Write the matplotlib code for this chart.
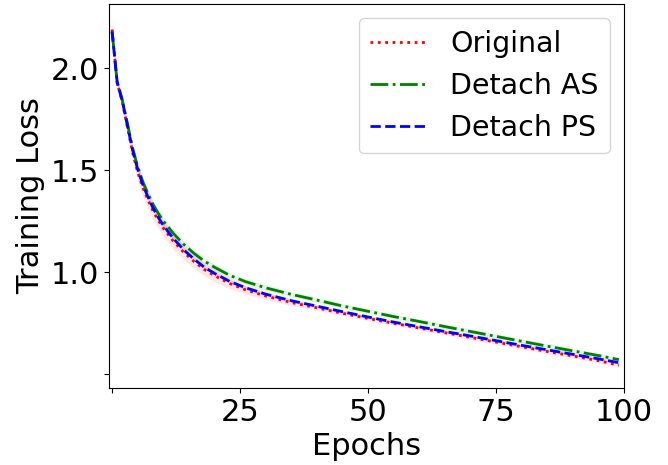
import matplotlib
matplotlib.use("Agg")
import matplotlib.pyplot as plt
import numpy as np

# values (epoch -> mean training loss)
epochs = [0, 1, 2, 3, 4, 5, 6, 7, 8, 9, 10, 12, 14, 16, 18, 20, 23, 26, 30,
          35, 40, 45, 50, 55, 60, 65, 70, 75, 80, 85, 90, 95, 99]

loss_ps = [2.18, 1.93, 1.84, 1.72, 1.60, 1.505, 1.43, 1.37, 1.315, 1.27, 1.23,
           1.165, 1.11, 1.065, 1.025, 0.995, 0.955, 0.925, 0.893, 0.861, 0.834,
           0.807, 0.781, 0.756, 0.733, 0.71, 0.688, 0.665, 0.642, 0.62,
           0.598, 0.576, 0.557]
loss_as = [2.18, 1.932, 1.845, 1.728, 1.61, 1.517, 1.444, 1.386, 1.333, 1.29, 1.252,
           1.19, 1.137, 1.093, 1.055, 1.025, 0.985, 0.955, 0.924, 0.892, 0.864,
           0.835, 0.809, 0.783, 0.759, 0.734, 0.71, 0.686, 0.662, 0.638,
           0.615, 0.592, 0.572]
loss_orig = [2.19, 1.928, 1.835, 1.71, 1.588, 1.492, 1.416, 1.356, 1.301, 1.256, 1.217,
             1.152, 1.098, 1.053, 1.014, 0.984, 0.945, 0.915, 0.884, 0.852, 0.826,
             0.799, 0.774, 0.75, 0.727, 0.704, 0.681, 0.658, 0.635, 0.612,
             0.59, 0.567, 0.545]

std_ps = [0.02, 0.015, 0.015, 0.015, 0.015, 0.015, 0.015, 0.015, 0.012, 0.012, 0.012,
          0.012, 0.01, 0.01, 0.01, 0.01, 0.01, 0.01, 0.01, 0.008, 0.008,
          0.008, 0.008, 0.008, 0.008, 0.008, 0.008, 0.008, 0.008, 0.008,
          0.008, 0.008, 0.008]
std_as = [0.02, 0.02, 0.02, 0.02, 0.02, 0.02, 0.02, 0.02, 0.02, 0.02, 0.02,
          0.02, 0.02, 0.018, 0.018, 0.015, 0.015, 0.015, 0.015, 0.012, 0.012,
          0.012, 0.012, 0.012, 0.012, 0.012, 0.012, 0.012, 0.012, 0.012,
          0.012, 0.012, 0.012]
std_orig = [0.05, 0.03, 0.035, 0.04, 0.04, 0.045, 0.045, 0.045, 0.045, 0.04, 0.04,
            0.04, 0.035, 0.035, 0.03, 0.03, 0.025, 0.02, 0.018, 0.015, 0.012,
            0.01, 0.01, 0.01, 0.01, 0.01, 0.01, 0.01, 0.01, 0.01,
            0.01, 0.01, 0.01]

FS = 22

fig = plt.figure(figsize=(6.68, 4.65), dpi=100)
ax = fig.add_axes([109 / 668, 1 - 388 / 465, (624 - 109) / 668, (388 - 4) / 465])

series = [
    ("Original", loss_orig, std_orig, "red", ":"),
    ("Detach AS", loss_as, std_as, "green", "-."),
    ("Detach PS", loss_ps, std_ps, "blue", "--"),
]
for label, mean, std, color, ls in series:
    mean = np.array(mean)
    std = np.array(std)
    ax.plot(epochs, mean, color=color, linestyle=ls, linewidth=2, label=label)
    ax.fill_between(epochs, mean - std, mean + std, color=color, alpha=0.1, linewidth=0)

ax.set_xlim(-0.6, 100)
ax.set_ylim(0.433, 2.315)
ax.set_xticks([0, 25, 50, 75, 100])
ax.set_xticklabels(["", "25", "50", "75", "100"])
ax.set_yticks([0.5, 1.0, 1.5, 2.0])
ax.set_yticklabels(["", "1.0", "1.5", "2.0"])
ax.tick_params(labelsize=FS)
ax.set_xlabel("Epochs", fontsize=FS)
ax.set_ylabel("Training Loss", fontsize=FS)
ax.legend(loc="upper right", fontsize=20.5)

fig.savefig("out.png", dpi=100)
